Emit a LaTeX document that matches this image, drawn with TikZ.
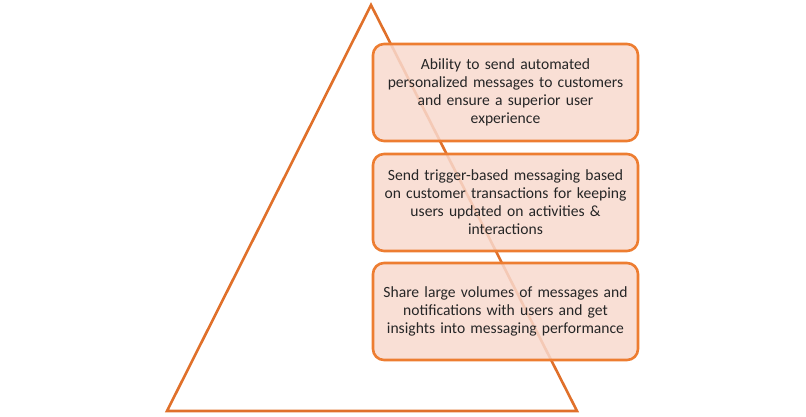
\documentclass[tikz,border=0pt]{standalone}
\usepackage{fontspec}
\setmainfont{Carlito}
\definecolor{lineor}{HTML}{E0702A}
\definecolor{boxor}{HTML}{ED7D31}
\definecolor{boxfill}{HTML}{F8D9CE}
\begin{document}
\begin{tikzpicture}[x=1pt,y=-1pt,
  infobox/.style={draw=boxor, line width=2.6pt, fill=boxfill, fill opacity=0.85, text opacity=1,
    rounded corners=11pt, minimum width=265pt, minimum height=97pt, text width=258pt, align=center,
    font=\fontsize{15.6}{18}\selectfont, text=black!85, inner sep=0pt}]
\useasboundingbox (0,0) rectangle (806,417);
\coordinate (apex) at (371,5);
\coordinate (bl) at (167,411);
\coordinate (br) at (577,411);
\draw[lineor, line width=2.6pt, line join=miter] (apex) -- (br) -- (bl) -- cycle;
\node[infobox] (b1) at (505.5,92.5) {Ability to send automated\\personalized messages to customers\\and ensure a superior user\\experience};
\node[infobox] (b2) at (505.5,202.5) {Send trigger-based messaging based\\on customer transactions for keeping\\users updated on activities \&\\interactions};
\node[infobox] (b3) at (505.5,311.5) {Share large volumes of messages and\\notifications with users and get\\insights into messaging performance};
\end{tikzpicture}
\end{document}
